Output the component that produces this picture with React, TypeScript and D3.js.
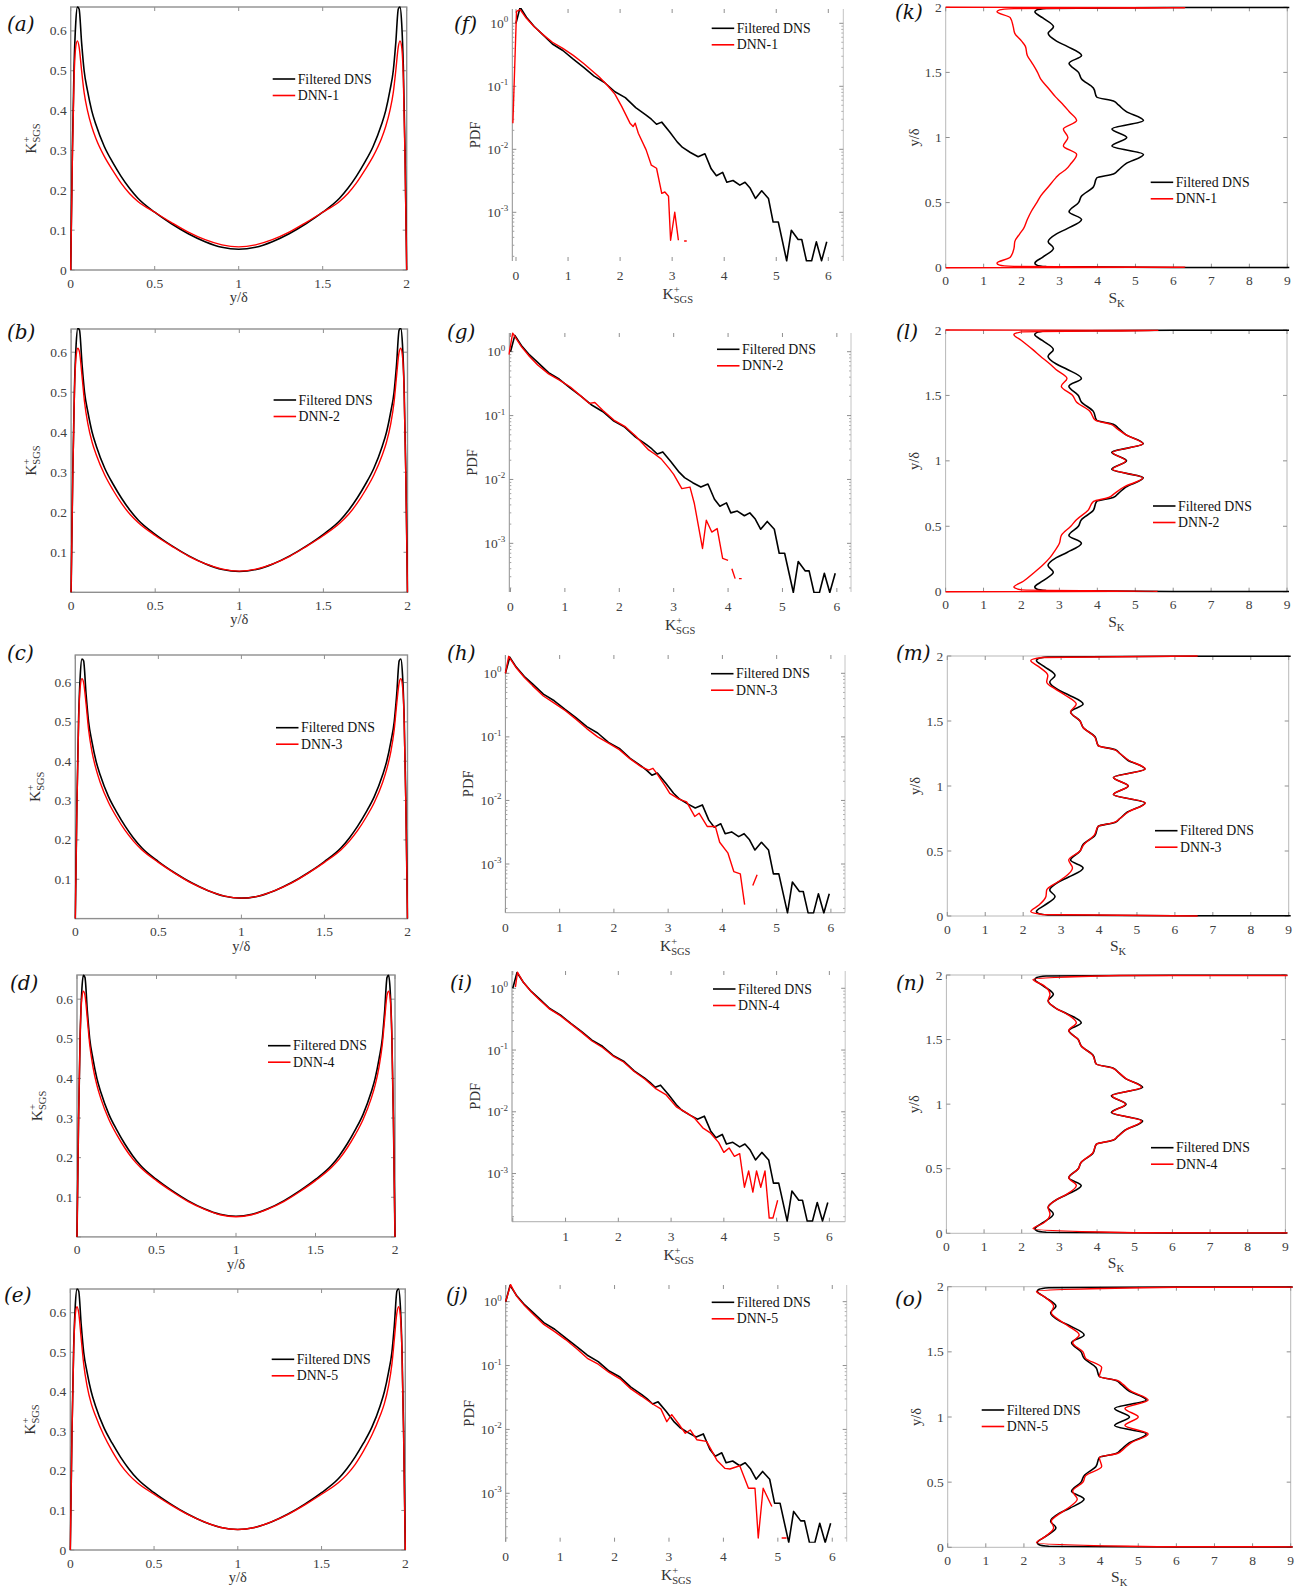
import React from 'react';
import * as d3 from 'd3';

// ---------------- Column 1: K+_SGS profiles vs y/delta ----------------
const yDelta = [0, 0.01, 0.02, 0.03, 0.04, 0.05, 0.065, 0.08, 0.1, 0.125, 0.15, 0.2, 0.25, 0.3, 0.35, 0.4, 0.5, 0.6, 0.7, 0.8, 0.9, 1.0, 1.1, 1.2, 1.3, 1.4, 1.5, 1.6, 1.65, 1.7, 1.75, 1.8, 1.85, 1.875, 1.9, 1.92, 1.935, 1.95, 1.96, 1.97, 1.98, 1.99, 2.0];
const kDNS = [0, 0.3, 0.51, 0.62, 0.66, 0.655, 0.57, 0.5, 0.45, 0.4, 0.365, 0.31, 0.27, 0.235, 0.205, 0.18, 0.145, 0.116, 0.091, 0.071, 0.057, 0.052, 0.057, 0.071, 0.091, 0.116, 0.145, 0.18, 0.205, 0.235, 0.27, 0.31, 0.365, 0.4, 0.45, 0.5, 0.57, 0.655, 0.66, 0.62, 0.51, 0.3, 0];
const kDNN1 = [0, 0.28, 0.48, 0.56, 0.575, 0.56, 0.5, 0.445, 0.4, 0.36, 0.33, 0.285, 0.25, 0.218, 0.192, 0.172, 0.145, 0.119, 0.095, 0.076, 0.063, 0.058, 0.063, 0.076, 0.095, 0.119, 0.145, 0.172, 0.192, 0.218, 0.25, 0.285, 0.33, 0.36, 0.4, 0.445, 0.5, 0.56, 0.575, 0.56, 0.48, 0.28, 0];
const kDNN2 = [0, 0.29, 0.5, 0.59, 0.61, 0.6, 0.54, 0.475, 0.42, 0.375, 0.343, 0.293, 0.255, 0.222, 0.195, 0.174, 0.142, 0.115, 0.09, 0.071, 0.058, 0.053, 0.058, 0.071, 0.09, 0.115, 0.142, 0.174, 0.195, 0.222, 0.255, 0.293, 0.343, 0.375, 0.42, 0.475, 0.54, 0.6, 0.61, 0.59, 0.5, 0.29, 0];
const kDNN3 = [0, 0.29, 0.5, 0.59, 0.61, 0.6, 0.545, 0.48, 0.425, 0.38, 0.346, 0.295, 0.257, 0.224, 0.197, 0.175, 0.143, 0.115, 0.09, 0.071, 0.057, 0.052, 0.057, 0.071, 0.09, 0.115, 0.143, 0.175, 0.197, 0.224, 0.257, 0.295, 0.346, 0.38, 0.425, 0.48, 0.545, 0.6, 0.61, 0.59, 0.5, 0.29, 0];
const kDNN4 = [0, 0.3, 0.51, 0.6, 0.62, 0.61, 0.55, 0.485, 0.43, 0.383, 0.349, 0.297, 0.258, 0.225, 0.197, 0.175, 0.142, 0.114, 0.089, 0.07, 0.056, 0.051, 0.056, 0.07, 0.089, 0.114, 0.142, 0.175, 0.197, 0.225, 0.258, 0.297, 0.349, 0.383, 0.43, 0.485, 0.55, 0.61, 0.62, 0.6, 0.51, 0.3, 0];
const kDNN5 = [0, 0.29, 0.5, 0.595, 0.615, 0.6, 0.535, 0.47, 0.415, 0.37, 0.34, 0.29, 0.25, 0.216, 0.19, 0.17, 0.141, 0.114, 0.09, 0.071, 0.057, 0.052, 0.057, 0.071, 0.09, 0.114, 0.141, 0.17, 0.19, 0.216, 0.25, 0.29, 0.34, 0.37, 0.415, 0.47, 0.535, 0.6, 0.615, 0.595, 0.5, 0.29, 0];
const kXTicks = [0, 0.5, 1, 1.5, 2];
const kXLabels = ['0', '0.5', '1', '1.5', '2'];
const kYTicks = [0, 0.1, 0.2, 0.3, 0.4, 0.5, 0.6];
const kYLabels = ['0', '0.1', '0.2', '0.3', '0.4', '0.5', '0.6'];

// ---------------- Column 2: PDF of K+_SGS ----------------
const pdfDNSx = [0, 0.08, 0.2, 0.35, 0.5, 0.7, 0.9, 1.1, 1.3, 1.5, 1.7, 1.9, 2.1, 2.3, 2.5, 2.6, 2.7, 2.8, 2.95, 3.1, 3.2, 3.35, 3.5, 3.63, 3.75, 3.85, 3.97, 4.05, 4.17, 4.3, 4.4, 4.5, 4.6, 4.72, 4.85, 4.94, 5.04, 5.2, 5.29, 5.42, 5.49, 5.58, 5.68, 5.77, 5.87, 5.97];
const pdfDNS = [1.0, 1.8, 1.25, 0.89, 0.68, 0.47, 0.37, 0.27, 0.2, 0.145, 0.115, 0.082, 0.066, 0.046, 0.035, 0.03, 0.025, 0.027, 0.019, 0.013, 0.0107, 0.0089, 0.0076, 0.0085, 0.0049, 0.0038, 0.0043, 0.003, 0.0032, 0.0027, 0.003, 0.0024, 0.00166, 0.0022, 0.00166, 0.0007, 0.0007, 0.00017, 0.00052, 0.00037, 0.00037, 0.00017, 0.00017, 0.00034, 0.00017, 0.00034];
const pdfDNN1x = [-0.06, 0.01, 0.08, 0.2, 0.35, 0.5, 0.7, 0.9, 1.1, 1.3, 1.45, 1.6, 1.75, 1.9, 2.03, 2.19, 2.25, 2.29, 2.35, 2.5, 2.6, 2.7, 2.8, 2.86, 2.93, 2.97, 3.05, 3.12, 3.18, 3.23, 3.28];
const pdfDNN1 = [0.026, 1.55, 1.65, 1.2, 0.88, 0.68, 0.5, 0.4, 0.31, 0.23, 0.18, 0.14, 0.105, 0.075, 0.048, 0.026, 0.023, 0.026, 0.018, 0.0098, 0.0056, 0.005, 0.002, 0.0021, 0.0018, 0.00036, 0.001, 0.00036, null, 0.00035, 0.00035];
const pdfDNN2x = [-0.03, 0.04, 0.2, 0.35, 0.5, 0.7, 0.9, 1.1, 1.3, 1.45, 1.55, 1.7, 1.9, 2.1, 2.3, 2.54, 2.65, 2.77, 2.92, 3.0, 3.15, 3.3, 3.38, 3.53, 3.6, 3.7, 3.8, 3.9, 4.0, 4.03, 4.07, 4.13, 4.17, 4.2, 4.25];
const pdfDNN2 = [0.9, 1.95, 1.2, 0.84, 0.62, 0.45, 0.36, 0.28, 0.2, 0.155, 0.16, 0.12, 0.085, 0.068, 0.048, 0.029, 0.025, 0.021, 0.0148, 0.012, 0.0072, 0.0076, 0.0042, 0.00083, 0.0023, 0.0015, 0.0017, 0.00058, 0.00054, null, 0.0004, 0.00028, null, 0.00028, 0.00028];
const pdfDNN3x = [0, 0.06, 0.2, 0.35, 0.5, 0.7, 0.9, 1.1, 1.3, 1.5, 1.7, 1.9, 2.1, 2.3, 2.5, 2.64, 2.72, 2.8, 2.95, 3.03, 3.2, 3.34, 3.49, 3.57, 3.72, 3.87, 3.95, 4.1, 4.21, 4.33, 4.41, 4.5, 4.56, 4.64];
const pdfDNN3 = [1.0, 1.85, 1.22, 0.86, 0.64, 0.44, 0.34, 0.26, 0.19, 0.135, 0.1, 0.08, 0.063, 0.045, 0.034, 0.03, 0.032, 0.026, 0.0166, 0.0129, 0.0105, 0.0095, 0.0056, 0.0063, 0.0039, 0.0039, 0.0022, 0.0015, 0.00076, 0.0007, 0.00023, null, 0.00046, 0.00068];
const pdfDNN4x = [0.05, 0.09, 0.2, 0.35, 0.5, 0.7, 0.9, 1.1, 1.3, 1.5, 1.7, 1.9, 2.1, 2.3, 2.5, 2.7, 2.9, 3.1, 3.3, 3.45, 3.6, 3.75, 3.9, 4.0, 4.1, 4.2, 4.3, 4.39, 4.47, 4.55, 4.62, 4.7, 4.78, 4.86, 4.93, 5.02];
const pdfDNN4 = [1.05, 1.82, 1.25, 0.88, 0.66, 0.46, 0.36, 0.265, 0.195, 0.14, 0.11, 0.08, 0.064, 0.045, 0.034, 0.024, 0.019, 0.012, 0.0095, 0.0078, 0.0055, 0.0045, 0.0032, 0.0022, 0.0026, 0.0019, 0.0021, 0.0006, 0.0011, 0.0005, 0.0011, 0.0006, 0.0011, 0.00019, 0.00019, 0.00037];
const pdfDNN5x = [0, 0.09, 0.2, 0.35, 0.5, 0.7, 0.9, 1.1, 1.3, 1.5, 1.7, 1.9, 2.1, 2.3, 2.5, 2.7, 2.85, 2.96, 3.05, 3.2, 3.3, 3.39, 3.51, 3.69, 3.88, 4.03, 4.12, 4.3, 4.46, 4.58, 4.64, 4.73, 4.89, 5.0, 5.07, 5.16];
const pdfDNN5 = [1.0, 1.85, 1.22, 0.86, 0.64, 0.44, 0.34, 0.255, 0.185, 0.13, 0.105, 0.078, 0.062, 0.043, 0.033, 0.025, 0.021, 0.0132, 0.017, 0.0115, 0.0087, 0.0098, 0.0069, 0.0065, 0.0033, 0.00245, 0.0024, 0.0027, 0.0012, 0.0012, 0.0002, 0.0012, 0.00062, null, 0.0002, 0.0002];
const pdfXTicks = [0, 1, 2, 3, 4, 5, 6];
const pdfXLabels = ['0', '1', '2', '3', '4', '5', '6'];
const pdfYTicks = [0.001, 0.01, 0.1, 1];
const pdfYExponents = ['-3', '-2', '-1', '0'];

// ---------------- Column 3: skewness S_K vs y/delta ----------------
const skY = [0.035, 0.08, 0.15, 0.2, 0.26, 0.3, 0.37, 0.43, 0.5, 0.55, 0.62, 0.69, 0.72, 0.75, 0.8, 0.87, 0.935, 1.0, 1.065, 1.13, 1.2, 1.25, 1.28, 1.31, 1.38, 1.45, 1.5, 1.57, 1.63, 1.7, 1.74, 1.8, 1.85, 1.92, 1.965];
const skDNS = [2.35, 2.55, 2.84, 2.7, 2.92, 3.2, 3.58, 3.25, 3.5, 3.58, 3.89, 3.98, 4.42, 4.55, 4.75, 5.21, 4.38, 4.77, 4.38, 5.21, 4.75, 4.55, 4.42, 3.98, 3.89, 3.58, 3.5, 3.25, 3.58, 3.2, 2.92, 2.7, 2.84, 2.55, 2.35];
const skDNN1 = [1.35, 1.7, 1.8, 1.82, 1.95, 2.05, 2.15, 2.25, 2.4, 2.5, 2.7, 2.9, 3.0, 3.15, 3.3, 3.45, 3.1, 3.22, 3.1, 3.45, 3.25, 3.1, 3.0, 2.9, 2.7, 2.5, 2.42, 2.28, 2.15, 2.1, 2.0, 1.82, 1.78, 1.7, 1.35];
const skDNN2 = [1.8, 2.05, 2.35, 2.55, 2.75, 2.85, 3.0, 3.05, 3.3, 3.45, 3.75, 3.9, 4.3, 4.45, 4.7, 5.2, 4.4, 4.75, 4.4, 5.2, 4.75, 4.5, 4.35, 3.95, 3.8, 3.45, 3.35, 3.05, 3.2, 2.9, 2.75, 2.5, 2.3, 2.0, 1.8];
const skDNN3 = [2.2, 2.4, 2.6, 2.62, 2.9, 3.1, 3.3, 3.2, 3.5, 3.6, 3.87, 3.98, 4.4, 4.55, 4.77, 5.22, 4.38, 4.77, 4.38, 5.22, 4.77, 4.55, 4.4, 3.98, 3.88, 3.58, 3.5, 3.25, 3.4, 3.1, 2.88, 2.62, 2.65, 2.4, 2.2];
const skDNN4 = [2.3, 2.58, 2.75, 2.7, 2.92, 3.18, 3.45, 3.25, 3.5, 3.58, 3.88, 3.98, 4.4, 4.55, 4.76, 5.18, 4.4, 4.75, 4.4, 5.18, 4.76, 4.55, 4.4, 3.98, 3.88, 3.58, 3.5, 3.25, 3.45, 3.18, 2.92, 2.7, 2.75, 2.58, 2.3];
const skDNN5 = [2.33, 2.55, 2.78, 2.72, 2.95, 3.15, 3.4, 3.28, 3.55, 3.62, 4.04, 3.98, 4.45, 4.6, 4.8, 5.26, 4.65, 5.0, 4.65, 5.26, 4.8, 4.6, 4.45, 3.98, 4.04, 3.62, 3.55, 3.28, 3.45, 3.15, 2.95, 2.72, 2.78, 2.55, 2.33];
// near-wall points (y/delta, S_K) for each series
const skDNSBotY = [0, 0.002, 0.008, 0.02];
const skDNSBotS = [40, 6, 2.65, 2.4];
const skDNSTopY = [1.98, 1.992, 1.998, 2];
const skDNSTopS = [2.4, 2.65, 6, 40];
const skDNN1BotY = [0, 0.003, 0.01, 0.02];
const skDNN1BotS = [0, 6.3, 1.8, 1.42];
const skDNN1TopY = [1.98, 1.99, 1.997, 2];
const skDNN1TopS = [1.42, 1.8, 6.3, 0];
const skDNN2BotY = [0, 0.003, 0.014];
const skDNN2BotS = [0, 5.6, 2.0];
const skDNN2TopY = [1.986, 1.997, 2];
const skDNN2TopS = [2.0, 5.6, 0];
const skDNN3BotY = [0, 0.012];
const skDNN3BotS = [6.6, 2.5];
const skDNN3TopY = [1.988, 2];
const skDNN3TopS = [2.5, 6.6];
const skDNN4BotY = [0, 0.004];
const skDNN4BotS = [40, 5.0];
const skDNN4TopY = [1.996, 2];
const skDNN4TopS = [4.6, 40];
const skDNN5BotY = [0, 0.004];
const skDNN5BotS = [40, 5.5];
const skDNN5TopY = [1.996, 2];
const skDNN5TopS = [6.0, 40];
const skXTicks = [0, 1, 2, 3, 4, 5, 6, 7, 8, 9];
const skXLabels = ['0', '1', '2', '3', '4', '5', '6', '7', '8', '9'];
const skYTicks = [0, 0.5, 1, 1.5, 2];
const skYLabels = ['0', '0.5', '1', '1.5', '2'];

const legendDNS = 'Filtered DNS';
const dnnNames = ['DNN-1', 'DNN-2', 'DNN-3', 'DNN-4', 'DNN-5'];

// ---------------- layout / styling ----------------
const FONT = '"Liberation Serif", "Times New Roman", serif';
const LETTER_FONT = '"DejaVu Serif", serif';
const AXIS = '#8f8f8f';
const TICKTXT = '#404040';
const BLACK = '#000000';
const RED = '#ff0000';
const TICK_FS = 13.5;

type S = { x: (number | null)[]; y: (number | null)[] };
type Kind = 'k' | 'pdf' | 'sk';
type Cfg = {
  id: string; kind: Kind;
  L: number; R: number; T: number; B: number;
  xDomain: [number, number]; yDomain: [number, number];
  dns: S; dnn: S; dnnLabel: string;
  legend: [number, number];
  letter: string; letterPos: [number, number];
  zeroX?: boolean; zeroY?: boolean; bottomLine?: boolean;
};

const skSeries = (bY: number[], bS: number[], inner: number[], tY: number[], tS: number[]): S => ({
  x: [...bS, ...inner, ...tS],
  y: [...bY, ...skY, ...tY],
});

const kCol = [kDNN1, kDNN2, kDNN3, kDNN4, kDNN5];
const kBoxes = [
  { L: 70.7, R: 406.7, T: 7, B: 270, ymax: 0.66, zeroY: true, legend: [272.7, 79], lp: [7, 31] },
  { L: 71.1, R: 407.5, T: 329, B: 592.3, ymax: 0.658, zeroY: false, legend: [273.6, 400], lp: [7, 339] },
  { L: 75.3, R: 407.5, T: 655, B: 918.6, ymax: 0.67, zeroY: false, legend: [276, 727.7], lp: [7, 660] },
  { L: 77, R: 395, T: 975, B: 1236.9, ymax: 0.661, zeroY: false, legend: [268, 1045.7], lp: [10, 990] },
  { L: 70.3, R: 405.3, T: 1289, B: 1550, ymax: 0.66, zeroY: true, legend: [271.7, 1359.3], lp: [4, 1302] },
];
const pdfCol: S[] = [
  { x: pdfDNN1x, y: pdfDNN1 }, { x: pdfDNN2x, y: pdfDNN2 }, { x: pdfDNN3x, y: pdfDNN3 },
  { x: pdfDNN4x, y: pdfDNN4 }, { x: pdfDNN5x, y: pdfDNN5 },
];
const pdfBoxes = [
  { L: 512.3, R: 843.3, T: 9, B: 261, xd: [-0.071, 6.288], yd: [-3.773, 0.227], zeroX: true, bottomLine: false, legend: [711.7, 28.3], lp: [454, 31] },
  { L: 509.3, R: 851, T: 333, B: 592, xd: [-0.022, 6.26], yd: [-3.762, 0.293], zeroX: true, bottomLine: false, legend: [717, 349.3], lp: [447, 339] },
  { L: 505.4, R: 845, T: 655, B: 912.7, xd: [0, 6.26], yd: [-3.766, 0.288], zeroX: true, bottomLine: true, legend: [711, 673.7], lp: [447, 660] },
  { L: 512, R: 845.2, T: 971, B: 1221.7, xd: [-0.015, 6.3], yd: [-3.78, 0.28], zeroX: false, bottomLine: true, legend: [713, 989], lp: [450, 990] },
  { L: 505.7, R: 846.7, T: 1285, B: 1541.7, xd: [0, 6.265], yd: [-3.758, 0.261], zeroX: true, bottomLine: false, legend: [711.7, 1302.3], lp: [446, 1302] },
];
const skCol: S[] = [
  skSeries(skDNN1BotY, skDNN1BotS, skDNN1, skDNN1TopY, skDNN1TopS),
  skSeries(skDNN2BotY, skDNN2BotS, skDNN2, skDNN2TopY, skDNN2TopS),
  skSeries(skDNN3BotY, skDNN3BotS, skDNN3, skDNN3TopY, skDNN3TopS),
  skSeries(skDNN4BotY, skDNN4BotS, skDNN4, skDNN4TopY, skDNN4TopS),
  skSeries(skDNN5BotY, skDNN5BotS, skDNN5, skDNN5TopY, skDNN5TopS),
];
const skDNSSeries = skSeries(skDNSBotY, skDNSBotS, skDNS, skDNSTopY, skDNSTopS);
const skBoxes = [
  { L: 945.7, R: 1287.3, T: 7.3, B: 267.7, legend: [1150.7, 182.3], lp: [895, 19] },
  { L: 945.6, R: 1287, T: 330, B: 591.7, legend: [1153, 506], lp: [896, 339] },
  { L: 947.3, R: 1288.7, T: 656, B: 916, legend: [1155, 830.7], lp: [896, 660] },
  { L: 946.4, R: 1285.4, T: 975, B: 1233.3, legend: [1151, 1147.7], lp: [896, 990] },
  { L: 947.7, R: 1290.7, T: 1286.7, B: 1547.3, legend: [981.7, 1410], lp: [895, 1306] },
];

const letters1 = ['(a)', '(b)', '(c)', '(d)', '(e)'];
const letters2 = ['(f)', '(g)', '(h)', '(i)', '(j)'];
const letters3 = ['(k)', '(l)', '(m)', '(n)', '(o)'];

const configs: Cfg[] = [];
kBoxes.forEach((b, i) => configs.push({
  id: 'k' + i, kind: 'k', L: b.L, R: b.R, T: b.T, B: b.B,
  xDomain: [0, 2], yDomain: [0, b.ymax],
  dns: { x: yDelta, y: kDNS }, dnn: { x: yDelta, y: kCol[i] }, dnnLabel: dnnNames[i],
  legend: b.legend as [number, number], letter: letters1[i], letterPos: b.lp as [number, number],
  zeroX: true, zeroY: b.zeroY,
}));
pdfBoxes.forEach((b, i) => configs.push({
  id: 'p' + i, kind: 'pdf', L: b.L, R: b.R, T: b.T, B: b.B,
  xDomain: b.xd as [number, number], yDomain: [Math.pow(10, b.yd[0]), Math.pow(10, b.yd[1])],
  dns: { x: pdfDNSx, y: pdfDNS }, dnn: pdfCol[i], dnnLabel: dnnNames[i],
  legend: b.legend as [number, number], letter: letters2[i], letterPos: b.lp as [number, number],
  zeroX: b.zeroX, zeroY: true, bottomLine: b.bottomLine,
}));
skBoxes.forEach((b, i) => configs.push({
  id: 's' + i, kind: 'sk', L: b.L, R: b.R, T: b.T, B: b.B,
  xDomain: [0, 9], yDomain: [0, 2],
  dns: skDNSSeries, dnn: skCol[i], dnnLabel: dnnNames[i],
  legend: b.legend as [number, number], letter: letters3[i], letterPos: b.lp as [number, number],
  zeroX: true, zeroY: true,
}));

function KLabel({ x, y, rotate }: { x: number; y: number; rotate?: boolean }) {
  return (
    <text transform={`translate(${x},${y})${rotate ? ' rotate(-90)' : ''}`} textAnchor="middle"
      fontFamily={FONT} fontSize={15.5} fill="#333">
      K<tspan fontSize={10.5} dy={-6}>+</tspan><tspan fontSize={10.5} dx={-6} dy={10}>SGS</tspan>
    </text>
  );
}

function Panel({ c }: { c: Cfg }) {
  const { L, R, T, B } = c;
  const xs = d3.scaleLinear().domain(c.xDomain).range([L, R]);
  const ys: any = c.kind === 'pdf'
    ? d3.scaleLog().domain(c.yDomain).range([B, T])
    : d3.scaleLinear().domain(c.yDomain).range([B, T]);
  const curve = c.kind === 'k' ? d3.curveMonotoneX : c.kind === 'sk' ? d3.curveMonotoneY : d3.curveLinear;
  const mk = (s: S) => {
    const pts = s.x.map((v, i) => [v, s.y[i]] as [number | null, number | null]);
    return d3.line<[number | null, number | null]>()
      .defined(p => p[0] != null && p[1] != null)
      .x(p => xs(p[0] as number))
      .y(p => ys(p[1] as number))
      .curve(curve)(pts) || '';
  };
  const xT = c.kind === 'k' ? kXTicks : c.kind === 'pdf' ? pdfXTicks : skXTicks;
  const xL = c.kind === 'k' ? kXLabels : c.kind === 'pdf' ? pdfXLabels : skXLabels;
  const yT = c.kind === 'k' ? kYTicks : c.kind === 'pdf' ? pdfYTicks : skYTicks;
  const yL = c.kind === 'k' ? kYLabels : c.kind === 'pdf' ? pdfYExponents : skYLabels;
  const tl = 4;
  const minor: number[] = [];
  if (c.kind === 'pdf') {
    for (let e = -4; e <= 0; e++) for (let m = 2; m <= 9; m++) {
      const v = m * Math.pow(10, e);
      if (v > c.yDomain[0] && v < c.yDomain[1]) minor.push(v);
    }
  }
  const pad = c.kind === 'sk' ? 2 : 1;
  const xLabOff = c.kind === 'pdf' ? 19 : 17.5;
  const cx = (L + R) / 2, cy = (T + B) / 2;
  const [lgx, lgy] = c.legend;
  const boxColor = c.kind === 'sk' ? '#b8b8b8' : AXIS;
  return (
    <g>
      <defs>
        <clipPath id={'clip-' + c.id}>
          <rect x={L - pad} y={T - pad} width={R - L + 2 * pad} height={B - T + 2 * pad} />
        </clipPath>
      </defs>
      {c.kind === 'pdf' ? (
        <g>
          <line x1={L} x2={L} y1={T} y2={B} stroke={AXIS} strokeWidth={1} />
          <line x1={R} x2={R} y1={T} y2={B} stroke="#c4c4c4" strokeWidth={1} />
          {c.bottomLine && <line x1={L} x2={R} y1={B} y2={B} stroke="#bdbdbd" strokeWidth={1.2} />}
        </g>
      ) : (
        <rect x={L} y={T} width={R - L} height={B - T} fill="none" stroke={boxColor} strokeWidth={c.kind === 'k' ? 1.4 : 1} />
      )}
      {xT.map((v, i) => (
        <g key={'xt' + i}>
          <line x1={xs(v)} x2={xs(v)} y1={B} y2={B - tl} stroke={AXIS} />
          <line x1={xs(v)} x2={xs(v)} y1={T} y2={T + tl} stroke={AXIS} />
          {(v !== 0 || c.zeroX) && (
            <text x={xs(v)} y={B + xLabOff} textAnchor="middle" fontFamily={FONT} fontSize={TICK_FS} fill={TICKTXT}>{xL[i]}</text>
          )}
        </g>
      ))}
      {yT.map((v, i) => (
        <g key={'yt' + i}>
          <line x1={L} x2={L + tl} y1={ys(v)} y2={ys(v)} stroke={AXIS} />
          <line x1={R} x2={R - tl} y1={ys(v)} y2={ys(v)} stroke={AXIS} />
          {c.kind === 'pdf' ? (
            <text x={L - 4} y={ys(v) + 4.5} textAnchor="end" fontFamily={FONT} fontSize={TICK_FS} fill={TICKTXT}>
              10<tspan fontSize={9} dy={-5.5}>{yL[i]}</tspan>
            </text>
          ) : (v !== 0 || c.zeroY) && (
            <text x={L - 4} y={ys(v) + 4.5} textAnchor="end" fontFamily={FONT} fontSize={TICK_FS} fill={TICKTXT}>{yL[i]}</text>
          )}
        </g>
      ))}
      {minor.map((v, i) => (
        <g key={'mt' + i}>
          <line x1={L} x2={L + 2} y1={ys(v)} y2={ys(v)} stroke="#a0a0a0" />
          <line x1={R} x2={R - 2} y1={ys(v)} y2={ys(v)} stroke="#b0b0b0" />
        </g>
      ))}
      <g clipPath={`url(#clip-${c.id})`}>
        <path d={mk(c.dns)} fill="none" stroke={BLACK} strokeWidth={1.6} strokeLinejoin="round" />
        <path d={mk(c.dnn)} fill="none" stroke={RED} strokeWidth={1.4} strokeLinejoin="round" />
      </g>
      <line x1={lgx} x2={lgx + 22.5} y1={lgy} y2={lgy} stroke={BLACK} strokeWidth={1.6} />
      <text x={lgx + 25} y={lgy + 4.5} fontFamily={FONT} fontSize={13.8} fill="#111">{legendDNS}</text>
      <line x1={lgx} x2={lgx + 22.5} y1={lgy + 16.5} y2={lgy + 16.5} stroke={RED} strokeWidth={1.6} />
      <text x={lgx + 25} y={lgy + 21} fontFamily={FONT} fontSize={13.8} fill="#111">{c.dnnLabel}</text>
      {c.kind === 'k' && (
        <g>
          <KLabel x={L - 35} y={cy} rotate />
          <text x={cx} y={B + 32} textAnchor="middle" fontFamily={FONT} fontSize={14.5} fill="#333">y/δ</text>
        </g>
      )}
      {c.kind === 'pdf' && (
        <g>
          <text transform={`translate(${L - 32},${cy}) rotate(-90)`} textAnchor="middle" fontFamily={FONT} fontSize={14.5} fill="#333">PDF</text>
          <KLabel x={cx} y={B + 38} />
        </g>
      )}
      {c.kind === 'sk' && (
        <g>
          <text transform={`translate(${L - 27},${cy}) rotate(-90)`} textAnchor="middle" fontFamily={FONT} fontSize={14.5} fill="#333">y/δ</text>
          <text x={cx} y={B + 35} textAnchor="middle" fontFamily={FONT} fontSize={15.5} fill="#333">
            S<tspan fontSize={10.5} dy={4}>K</tspan>
          </text>
        </g>
      )}
      <text x={c.letterPos[0]} y={c.letterPos[1]} fontFamily={LETTER_FONT} fontStyle="italic" fontSize={20} fill="#111">{c.letter}</text>
    </g>
  );
}

export default function App() {
  return (
    <svg width={1312} height={1594} viewBox="0 0 1312 1594"
      style={{ position: 'absolute', left: 0, top: 0, background: '#fff' }}>
      <rect x={0} y={0} width={1312} height={1594} fill="#fff" />
      {configs.map(c => <Panel key={c.id} c={c} />)}
    </svg>
  );
}
